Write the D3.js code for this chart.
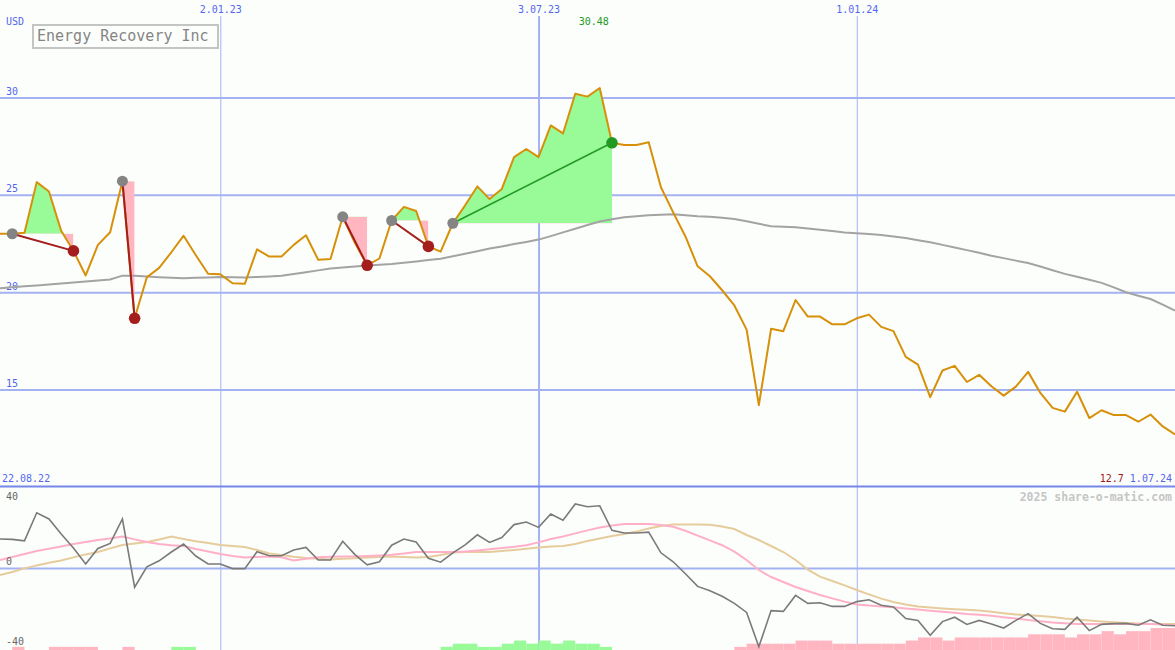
<!DOCTYPE html>
<html><head><meta charset="utf-8">
<script src="https://cdn.jsdelivr.net/npm/d3@7"></script>
<style>
html,body{margin:0;padding:0;background:#fcfefc;}
svg{display:block;}
text{font-family:"DejaVu Sans Mono",monospace;}
</style></head><body>
<svg id="chart" width="1175" height="650"></svg>
<script>
// ---------- data ----------
const startDate = "2022-08-29";
const startLabel = "22.08.22";
const endLabel = "1.07.24";
const lastPriceLabel = "12.7";
const peakLabel = "30.48";
const title = "Energy Recovery Inc";
const currency = "USD";
const watermark = "2025 share-o-matic.com";
const gridDates = ["2023-01-02", "2023-07-03", "2024-01-01"];
const priceTicks = [15, 20, 25, 30];
const oscTicks = [40, 0, -40];

const price = [
 23.00, 23.00, 23.05, 25.65, 25.17, 23.15, 22.12, 20.86, 22.43, 23.08,
 25.70, 18.66, 20.77, 21.25, 22.05, 22.90, 21.90, 20.95, 20.92, 20.46,
 20.43, 22.20, 21.83, 21.83, 22.43, 22.92, 21.66, 21.70, 23.87, 22.52,
 21.38, 21.73, 23.68, 24.38, 24.17, 22.35, 22.08, 23.54, 24.46, 25.43,
 24.78, 25.30, 26.93, 27.35, 26.93, 28.56, 28.15, 30.19, 30.04, 30.48,
 27.67, 27.56, 27.56, 27.70, 25.39, 24.10, 22.86, 21.33, 20.82, 20.10,
 19.32, 18.08, 14.20, 18.12, 18.00, 19.60, 18.75, 18.75, 18.35, 18.35,
 18.66, 18.85, 18.22, 18.00, 16.68, 16.28, 14.61, 15.98, 16.22, 15.39,
 15.76, 15.17, 14.69, 15.15, 15.91, 14.83, 14.06, 13.87, 14.89, 13.54,
 13.94, 13.69, 13.69, 13.35, 13.72, 13.11, 12.70];

const movingAvg = [
 20.20, 20.25, 20.30, 20.35, 20.40, 20.45, 20.50, 20.55, 20.60, 20.65,
 20.85, 20.84, 20.80, 20.77, 20.74, 20.72, 20.74, 20.76, 20.78, 20.77,
 20.76, 20.78, 20.81, 20.85, 20.93, 21.02, 21.12, 21.22, 21.27, 21.32,
 21.37, 21.41, 21.45, 21.51, 21.58, 21.65, 21.72, 21.84, 21.97, 22.10,
 22.24, 22.35, 22.47, 22.58, 22.70, 22.88, 23.07, 23.26, 23.45, 23.63,
 23.75, 23.85, 23.90, 23.95, 23.98, 24.00, 23.95, 23.90, 23.87, 23.82,
 23.76, 23.64, 23.51, 23.39, 23.36, 23.33, 23.27, 23.20, 23.14, 23.07,
 23.03, 22.99, 22.94, 22.86, 22.78, 22.67, 22.56, 22.43, 22.30, 22.16,
 22.02, 21.87, 21.75, 21.62, 21.50, 21.32, 21.13, 20.94, 20.79, 20.64,
 20.48, 20.25, 20.00, 19.82, 19.65, 19.36, 19.06];

const oscillator = [
 14.5, 14.3, 13.6, 27.6, 24.5, 17.0, 10.0, 2.0, 9.8, 12.3,
 24.5, -9.6, 0.6, 3.6, 8.0, 12.0, 6.0, 2.0, 2.0, -0.3,
 -0.3, 8.1, 6.1, 6.1, 9.0, 10.3, 4.0, 4.0, 13.4, 6.7,
 1.6, 3.1, 11.4, 14.5, 13.0, 4.9, 2.9, 7.6, 11.6, 16.6,
 12.8, 15.2, 21.7, 23.0, 20.3, 27.0, 23.9, 32.0, 30.6, 31.1,
 18.8, 17.5, 17.5, 17.9, 7.6, 3.1, -2.9, -9.2, -11.4, -14.1,
 -17.7, -22.2, -39.4, -21.3, -21.7, -13.7, -17.7, -17.4, -19.2, -19.2,
 -16.8, -15.9, -18.6, -19.5, -25.3, -26.2, -33.6, -26.8, -24.6, -28.2,
 -26.2, -28.0, -30.0, -26.2, -22.8, -27.7, -30.4, -30.7, -24.6, -31.3,
 -28.2, -27.8, -27.7, -28.6, -25.9, -28.6, -28.9];

const oscFast = [
 4.0, 5.5, 7.0, 8.5, 9.6, 10.8, 12.0, 13.0, 14.0, 14.8,
 15.7, 14.3, 13.0, 12.0, 11.4, 11.0, 9.5, 8.2, 7.0, 6.0,
 5.3, 5.5, 5.7, 5.4, 3.8, 4.6, 5.4, 5.6, 5.7, 5.8,
 6.0, 6.3, 6.6, 7.2, 8.0, 8.0, 8.0, 8.0, 8.3, 8.8,
 9.4, 10.0, 10.6, 11.4, 12.8, 14.5, 15.8, 17.3, 18.8, 20.2,
 21.3, 22.0, 22.0, 22.0, 21.5, 20.6, 18.6, 16.2, 13.8, 11.4,
 8.2, 4.0, -1.0, -4.5, -7.0, -9.5, -11.5, -13.5, -15.2, -16.8,
 -18.2, -18.8, -19.2, -19.6, -20.2, -20.8, -21.4, -21.9, -22.4, -23.0,
 -23.4, -23.9, -24.6, -25.3, -26.0, -26.6, -27.3, -27.6, -28.0, -28.0,
 -28.0, -28.0, -28.0, -28.0, -28.0, -28.3, -28.6];

const oscSlow = [
 -3.5, -2.0, -0.2, 1.3, 2.6, 3.8, 5.3, 6.8, 8.0, 9.8,
 11.5, 12.2, 13.0, 14.3, 15.7, 14.5, 13.4, 12.5, 11.5, 11.0,
 10.5, 9.0, 7.3, 6.5, 5.6, 5.0, 4.6, 4.3, 4.6, 4.9,
 5.2, 5.5, 5.8, 5.5, 5.2, 5.5, 6.5, 7.7, 8.0, 8.0,
 8.0, 8.5, 9.0, 9.6, 10.2, 10.8, 11.0, 12.0, 13.5, 14.8,
 16.0, 17.0, 18.2, 19.8, 21.0, 21.7, 21.7, 21.7, 21.6, 20.7,
 19.5, 16.5, 14.0, 11.0, 8.0, 4.0, -0.8, -4.3, -6.5, -8.7,
 -11.0, -13.2, -15.3, -17.0, -18.3, -19.3, -19.8, -20.2, -20.6, -20.9,
 -21.3, -21.9, -22.6, -23.2, -23.6, -24.0, -24.5, -25.2, -25.7, -26.2,
 -26.7, -27.1, -27.5, -27.8, -28.0, -28.0, -28.0];

// one bar per week interval; positive = green, negative = pink
const trendBars = [
 0, -1, 0, 0, -1, -1, -1, -1, 0, 0,
 -1, 0, 0, 0, 1, 1, 0, 0, 0, 0,
 0, 0, 0, 0, 0, 0, 0, 0, 0, 0,
 0, 0, 0, 0, 0, 0, 1, 2, 2, 1,
 1, 2, 3, 2, 3, 2, 3, 2, 2, 1,
 0, 0, 0, 0, 0, 0, 0, 0, 0, 0,
 -1, -2, -2, -2, -2, -3, -3, -3, -2, -2,
 -2, -2, -2, -2, -3, -4, -4, -3, -4, -4,
 -4, -4, -4, -4, -5, -5, -5, -4, -5, -5,
 -6, -5, -6, -6, -7, -7];

const signalStart = [1, 10, 28, 32, 37];
const signalEnd = [6, 11, 30, 35, 50];
const signalUp = [false, false, false, false, true];

// ---------- layout ----------
const W = 1175, H = 650;
const mainBottom = 487;
const svg = d3.select("#chart");
const parse = d3.timeParse("%Y-%m-%d");
const t0 = parse(startDate);
const dates = price.map((_, i) => d3.timeDay.offset(t0, 7 * i));
const gridD = gridDates.map(parse);
const peakIdx = d3.maxIndex(price);

const x = d3.scaleTime().domain([dates[0], dates[dates.length - 1]]).range([0, W]);
const yMain = d3.scaleLinear().domain([10, 35]).range([mainBottom, 0]);
const yLow = d3.scaleLinear().domain([-41, 40.5]).range([H, mainBottom]);
const barH = d3.scaleLinear().domain([0, 7]).range([0, 22]);

const BLUE = "#5466ee", GRID = "#a4b2f2";

svg.append("rect").attr("width", W).attr("height", H).attr("fill", "#fcfefc");

// horizontal gridlines (main)
const gy = svg.append("g").call(d3.axisRight(yMain).tickValues(priceTicks).tickSize(W).tickFormat(d3.format("d")));
gy.select(".domain").remove();
gy.selectAll("line").attr("stroke", GRID).attr("stroke-width", 2);
gy.selectAll("text").attr("x", 6).attr("dy", -3).attr("text-anchor", "start")
  .attr("fill", BLUE).attr("font-size", 10).attr("font-family", "DejaVu Sans Mono");

// lower panel zero line
const gl = svg.append("g").call(d3.axisRight(yLow).tickValues([0]).tickSize(W).tickFormat(""));
gl.select(".domain").remove();
gl.selectAll("line").attr("stroke", GRID).attr("stroke-width", 2);

// vertical gridlines + date labels
const gx = svg.append("g").attr("transform", "translate(0,16)")
  .call(d3.axisTop(x).tickValues(gridD).tickSize(-(H - 16)).tickFormat(d3.timeFormat("%-d.%m.%y")));
gx.select(".domain").remove();
gx.selectAll("line").attr("stroke", GRID).attr("stroke-width", (d, i) => i === 1 ? 2 : 1);
gx.selectAll("text").attr("fill", BLUE).attr("font-size", 10).attr("font-family", "DejaVu Sans Mono");

// separator
svg.append("line").attr("x1", 0).attr("x2", W).attr("y1", mainBottom - 0.5).attr("y2", mainBottom - 0.5)
  .attr("stroke", "#7687ea").attr("stroke-width", 2);

// signal fills
const defs = svg.append("defs");
signalStart.forEach((s, k) => {
  const e = signalEnd[k];
  const lvl = yMain(price[s]);
  const seg = d3.range(s, e + 1);
  const area = d3.area().x(i => x(dates[i])).y0(lvl).y1(i => yMain(price[i]));
  const x0 = x(dates[s]), x1 = x(dates[e]);
  defs.append("clipPath").attr("id", "up" + k).append("rect")
    .attr("x", x0).attr("y", 0).attr("width", x1 - x0).attr("height", lvl);
  defs.append("clipPath").attr("id", "dn" + k).append("rect")
    .attr("x", x0).attr("y", lvl).attr("width", x1 - x0).attr("height", mainBottom - lvl);
  svg.append("path").datum(seg).attr("d", area).attr("fill", "#98fb98").attr("clip-path", `url(#up${k})`);
  svg.append("path").datum(seg).attr("d", area).attr("fill", "#ffb6c1").attr("clip-path", `url(#dn${k})`);
});

// moving average
svg.append("path").datum(movingAvg)
  .attr("d", d3.line().x((d, i) => x(dates[i])).y(d => yMain(d)))
  .attr("fill", "none").attr("stroke", "#a3a3a3").attr("stroke-width", 2);

// price
svg.append("path").datum(price)
  .attr("d", d3.line().x((d, i) => x(dates[i])).y(d => yMain(d)))
  .attr("fill", "none").attr("stroke", "#d6900a").attr("stroke-width", 2).attr("stroke-linejoin", "round");

// signal lines + markers
signalStart.forEach((s, k) => {
  const e = signalEnd[k];
  const col = signalUp[k] ? "#229a22" : "#a51e1e";
  svg.append("line")
    .attr("x1", x(dates[s])).attr("y1", yMain(price[s]))
    .attr("x2", x(dates[e])).attr("y2", yMain(price[e]))
    .attr("stroke", col).attr("stroke-width", signalUp[k] ? 1.6 : 2);
  svg.append("circle").attr("cx", x(dates[s])).attr("cy", yMain(price[s])).attr("r", 5.5).attr("fill", "#848484");
  svg.append("circle").attr("cx", x(dates[e])).attr("cy", yMain(price[e])).attr("r", 5.8).attr("fill", col);
});

// lower panel bars
svg.append("g").selectAll("rect").data(trendBars).join("rect")
  .attr("x", (d, i) => x(dates[i]))
  .attr("width", (d, i) => x(dates[i + 1]) - x(dates[i]))
  .attr("y", d => H - barH(Math.abs(d)))
  .attr("height", d => barH(Math.abs(d)))
  .attr("fill", d => d > 0 ? "#98fb98" : "#ffb6c1");

const lowLine = d3.line().x((d, i) => x(dates[i])).y(d => yLow(d));
svg.append("path").datum(oscSlow).attr("d", lowLine).attr("fill", "none").attr("stroke", "#e6cc9c").attr("stroke-width", 2);
svg.append("path").datum(oscFast).attr("d", lowLine).attr("fill", "none").attr("stroke", "#ffb0c6").attr("stroke-width", 2);
svg.append("path").datum(oscillator).attr("d", lowLine).attr("fill", "none").attr("stroke", "#7a7a7a").attr("stroke-width", 1.6);

// lower panel labels
svg.append("g").selectAll("text").data(oscTicks).join("text")
  .attr("x", 6).attr("y", d => yLow(d) + (d > 0 ? 12 : -3))
  .attr("fill", "#666").attr("font-size", 10).text(d => d);

// texts
svg.append("text").attr("x", 6).attr("y", 25).attr("fill", BLUE).attr("font-size", 10).text(currency);
svg.append("rect").attr("x", 33).attr("y", 25).attr("width", 185).attr("height", 23)
  .attr("fill", "#fcfefc").attr("stroke", "#c4c4c4").attr("stroke-width", 2);
svg.append("text").attr("x", 37).attr("y", 41).attr("fill", "#858585").attr("font-size", 15).text(title);

svg.append("text").attr("x", x(dates[peakIdx]) - 6).attr("y", 25).attr("text-anchor", "middle")
  .attr("fill", "#229a22").attr("font-size", 10).text(peakLabel);

svg.append("text").attr("x", 2).attr("y", mainBottom - 5).attr("fill", BLUE).attr("font-size", 10).text(startLabel);
svg.append("text").attr("x", W - 3).attr("y", mainBottom - 5).attr("text-anchor", "end").attr("font-size", 10)
  .call(t => {
    t.append("tspan").attr("fill", "#a01818").text(lastPriceLabel + " ");
    t.append("tspan").attr("fill", BLUE).text(endLabel);
  });
svg.append("text").attr("x", W - 3).attr("y", mainBottom + 14).attr("text-anchor", "end")
  .attr("fill", "#c6c6c6").attr("font-size", 11.5).attr("font-weight", "bold").text(watermark);
</script>
</body></html>
